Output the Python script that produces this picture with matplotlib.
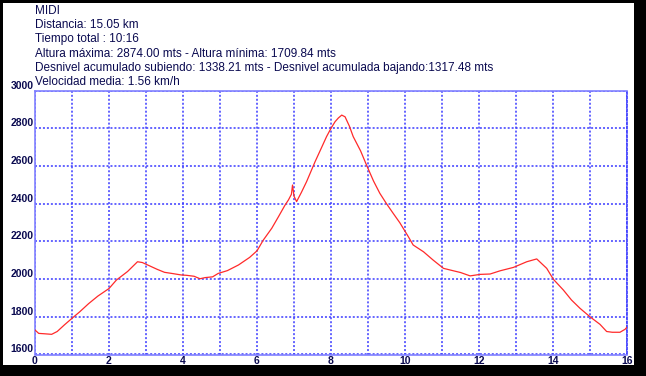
import matplotlib
matplotlib.use('Agg')
import matplotlib.pyplot as plt
from matplotlib.patches import Rectangle

# perfil de altura (km, m)
dist = [0, 0.1, 0.25, 0.45, 0.6, 0.8, 1.0, 1.2, 1.45, 1.7, 2.0, 2.2, 2.5, 2.77, 2.9,
        3.1, 3.3, 3.5, 3.7, 3.95, 4.1, 4.3, 4.46, 4.6, 4.8, 4.95, 5.2, 5.5, 5.8, 6.0,
        6.17, 6.4, 6.58, 6.75, 6.85, 6.93, 6.96, 7.0, 7.07, 7.2, 7.34, 7.57, 7.75, 7.88,
        8.0, 8.11, 8.2, 8.29, 8.38, 8.5, 8.6, 8.8, 8.96, 9.15, 9.32, 9.5, 9.68, 9.86,
        10.09, 10.22, 10.5, 10.76, 11.04, 11.31, 11.5, 11.76, 12.03, 12.3, 12.57, 12.93,
        13.29, 13.56, 13.83, 14.01, 14.28, 14.5, 14.73, 15.0, 15.27, 15.45, 15.6, 15.81,
        15.95, 16.0]
elev = [1730, 1712, 1710, 1707, 1722, 1758, 1792, 1825, 1870, 1910, 1950, 1995, 2040,
        2092, 2088, 2070, 2052, 2036, 2030, 2022, 2020, 2015, 2002, 2008, 2012, 2030,
        2045, 2075, 2115, 2150, 2207, 2270, 2331, 2390, 2420, 2450, 2499, 2440, 2411,
        2460, 2517, 2623, 2700, 2756, 2800, 2835, 2855, 2870, 2861, 2810, 2756, 2680,
        2605, 2520, 2455, 2400, 2349, 2299, 2225, 2181, 2145, 2101, 2057, 2044, 2035,
        2017, 2025, 2027, 2044, 2062, 2092, 2107, 2057, 1999, 1942, 1889, 1845, 1800,
        1760, 1722, 1718, 1718, 1734, 1745]

xticks = [0, 2, 4, 6, 8, 10, 12, 14, 16]
yticks = [1600, 1800, 2000, 2200, 2400, 2600, 2800, 3000]

header = ["MIDI",
          "Distancia: 15.05 km",
          "Tiempo total : 10:16",
          "Altura máxima: 2874.00 mts - Altura mínima: 1709.84 mts",
          "Desnivel acumulado subiendo: 1338.21 mts - Desnivel acumulada bajando:1317.48 mts",
          "Velocidad media: 1.56 km/h"]

navy = '#0a0a50'
gridc = '#3a3aff'

W, H = 646, 376
fig = plt.figure(figsize=(W/100, H/100), dpi=100, facecolor='black')
# marco blanco con sombra negra
fig.patches.append(Rectangle((3/W, (H-365)/H), (634-3)/W, (365-3)/H,
                             transform=fig.transFigure, facecolor='white',
                             edgecolor='none', zorder=-5))

ax = fig.add_axes([35/W, (H-354.5)/H, (627-35)/W, (354.5-90.6)/H])
ax.set_zorder(2)
ax.set_facecolor('white')
ax.plot(dist, elev, color='#ff2a2a', lw=0.9, zorder=3)

ax.set_xlim(0, 16)
ax.set_ylim(1600, 3000)
ax.set_xticks(xticks)
ax.set_yticks(yticks)
ax.set_xticks(range(0, 17), minor=True)

ax.grid(True, which='both', color=gridc, ls=(0, (1.3, 1.3)), lw=1.1)
ax.tick_params(which='both', length=0)
ax.tick_params(axis='x', pad=1)
ax.tick_params(axis='y', pad=1)
for lab in ax.get_xticklabels() + ax.get_yticklabels():
    lab.set_fontfamily('Liberation Sans')
    lab.set_fontweight('bold')
    lab.set_fontsize(7.5)
    lab.set_color(navy)
for lab in ax.get_yticklabels():
    lab.set_va('bottom')

for side in ['left', 'bottom', 'top']:
    ax.spines[side].set_color('#8080ff')
    ax.spines[side].set_linewidth(1.2)
ax.spines['right'].set_color(gridc)
ax.spines['right'].set_linestyle((0, (1.3, 1.3)))
ax.spines['right'].set_linewidth(1.2)

for i, t in enumerate(header):
    fig.text(35/W, 1 - (11 + i*14.2)/H, t, fontsize=8.5, color=navy,
             family='Liberation Sans', va='center', ha='left', zorder=3)

fig.savefig('out.png', dpi=100, facecolor='black')
